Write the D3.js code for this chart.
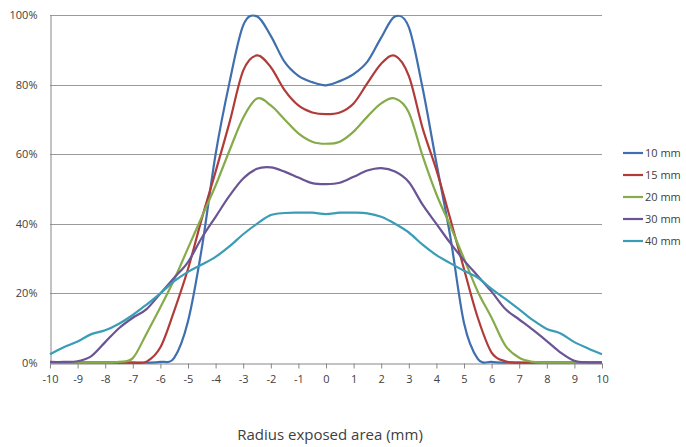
<!DOCTYPE html>
<html>
<head>
<meta charset="utf-8">
<script src="https://cdn.jsdelivr.net/npm/d3@7"></script>
<style>
  body { margin: 0; background: #fff; }
  text { font-family: "Open Sans", sans-serif; fill: #404040; }
</style>
</head>
<body>
<div id="container"></div>
<script>
const radius = [-10, -9.5, -9, -8.5, -8, -7.5, -7, -6.5, -6, -5.5, -5, -4.5, -4, -3.5, -3, -2.5, -2, -1.5, -1, -0.5,
                0, 0.5, 1, 1.5, 2, 2.5, 3, 3.5, 4, 4.5, 5, 5.5, 6, 6.5, 7, 7.5, 8, 8.5, 9, 9.5, 10];

const mm10 = [0.1, 0.1, 0.1, 0.1, 0.1, 0.1, 0.1, 0.1, 0.3, 1.5, 12, 33, 60, 80.5, 97, 99.6, 94, 86.5, 82.5, 80.7,
              79.8, 81, 83, 86.6, 93.5, 99.6, 96.5, 79, 57.5, 36.5, 11.5, 1.2, 0.3, 0.1, 0.1, 0.1, 0.1, 0.1, 0.1, 0.1, 0.1];
const mm15 = [0.1, 0.1, 0.1, 0.1, 0.1, 0.1, 0.1, 0.4, 4.5, 15, 27, 41.5, 55, 69, 84, 88.4, 85, 78.4, 74, 72,
              71.5, 72, 74.6, 80.4, 86, 88.3, 82.5, 67.5, 55.5, 41.5, 27, 13, 3, 0.5, 0.1, 0.1, 0.1, 0.1, 0.1, 0.1, 0.1];
const mm20 = [0.1, 0.1, 0.1, 0.1, 0.1, 0.3, 1.4, 8.5, 16, 24, 33, 42, 51, 61, 70.5, 76, 74, 70, 66, 63.6,
              63, 63.6, 66.5, 70.8, 74.6, 76, 72, 59.5, 48.5, 39.5, 30, 20.5, 13, 5, 1.5, 0.3, 0.1, 0.1, 0.1, 0.1, 0.1];
const mm30 = [0.3, 0.3, 0.5, 2, 6, 10, 13, 15.5, 20, 24.5, 29, 36, 42, 48, 53, 55.8, 56.2, 55, 53.3, 51.7,
              51.4, 51.8, 53.5, 55.3, 56, 55, 52, 45.5, 40, 34.5, 29.5, 25, 20.5, 15.5, 12.5, 9.5, 6.3, 3, 0.6, 0.2, 0.2];
const mm40 = [2.5, 4.5, 6.2, 8.3, 9.4, 11.3, 13.8, 16.8, 20, 23.5, 26.2, 28.3, 30.5, 33.5, 37, 40, 42.5, 43.1, 43.2, 43.2,
              42.8, 43.2, 43.2, 43, 42, 40, 37.5, 34, 31, 28.7, 26.5, 24.5, 21.3, 18.4, 15.4, 12.3, 9.8, 8.5, 6, 4.2, 2.5];

const seriesNames = ["10 mm", "15 mm", "20 mm", "30 mm", "40 mm"];
const seriesValues = [mm10, mm15, mm20, mm30, mm40];
const xTicks = [-10, -9, -8, -7, -6, -5, -4, -3, -2, -1, 0, 1, 2, 3, 4, 5, 6, 7, 8, 9, 10];
const yTicks = [0, 20, 40, 60, 80, 100];

const colors = ["#3f6fae", "#b03c3a", "#86ab4a", "#6a5494", "#3a9db5"];

const width = 686;
const height = 447;
const padding = { top: 15, bot: 84, left: 50, right: 84 };

const svg = d3.select("#container")
              .append("svg")
              .attr("width", width)
              .attr("height", height);

const xScale = d3.scaleLinear()
                 .domain([-10, 10])
                 .range([padding.left, width - padding.right]);
const yScale = d3.scaleLinear()
                 .domain([0, 100])
                 .range([height - padding.bot, padding.top]);

// horizontal gridlines
svg.append("g")
   .selectAll("line")
   .data(yTicks.filter((d) => d > 0))
   .enter()
   .append("line")
   .attr("x1", padding.left)
   .attr("x2", width - padding.right)
   .attr("y1", (d) => Math.round(yScale(d)) + 0.5)
   .attr("y2", (d) => Math.round(yScale(d)) + 0.5)
   .attr("stroke", "#9a9a9a")
   .attr("stroke-width", 1);

// y axis
const yAxis = d3.axisLeft(yScale)
                .tickValues(yTicks)
                .tickSize(0)
                .tickPadding(13)
                .tickFormat((d) => d + "%");
svg.append("g")
   .attr("transform", "translate(" + (padding.left + 0.5) + ", 0)")
   .call(yAxis)
   .call((g) => g.select(".domain").attr("stroke", "#868686"))
   .call((g) => g.selectAll("text").style("font-size", "11px").attr("fill", "#404040"));

// x axis (plain hyphen for negatives, as in the original)
const xAxis = d3.axisBottom(xScale)
                .tickValues(xTicks)
                .tickSizeInner(5)
                .tickSizeOuter(0)
                .tickPadding(7)
                .tickFormat((d) => String(d));
svg.append("g")
   .attr("transform", "translate(0, " + (Math.round(yScale(0)) + 0.5) + ")")
   .call(xAxis)
   .call((g) => g.select(".domain").attr("stroke", "#868686"))
   .call((g) => g.selectAll(".tick line").attr("stroke", "#868686"))
   .call((g) => g.selectAll("text").style("font-size", "11px").attr("fill", "#404040"));

svg.append("text")
   .text("Radius exposed area (mm)")
   .attr("x", 330)
   .attr("y", 440)
   .attr("text-anchor", "middle")
   .style("font-size", "15px");

// curves
const line = d3.line()
               .x((d, i) => xScale(radius[i]))
               .y((d) => yScale(d))
               .curve(d3.curveCardinal.tension(0));

svg.append("g")
   .selectAll("path")
   .data(seriesValues)
   .enter()
   .append("path")
   .attr("d", (d) => line(d))
   .attr("fill", "none")
   .attr("stroke", (d, i) => colors[i])
   .attr("stroke-width", 2.2)
   .attr("stroke-linejoin", "round");

// legend
const legend = svg.append("g")
                  .selectAll("g")
                  .data(seriesNames)
                  .enter()
                  .append("g")
                  .attr("transform", (d, i) => "translate(623, " + (153 + i * 22) + ")");
legend.append("line")
      .attr("x1", 0)
      .attr("x2", 20)
      .attr("stroke", (d, i) => colors[i])
      .attr("stroke-width", 2.2);
legend.append("text")
      .text((d) => d)
      .attr("x", 22)
      .attr("dy", "0.35em")
      .style("font-size", "11px");
</script>
</body>
</html>
